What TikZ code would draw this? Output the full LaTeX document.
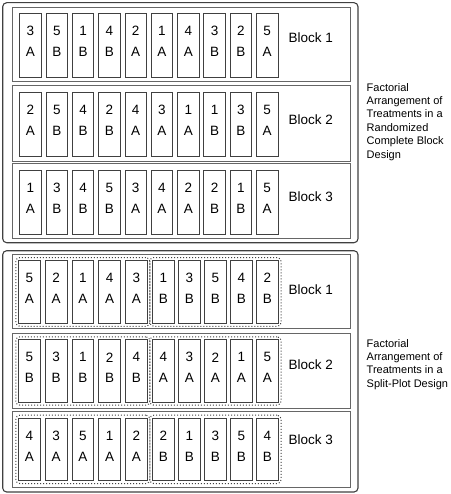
\documentclass[tikz,border=0pt]{standalone}
\usepackage{fontspec}
\setmainfont{Liberation Sans}
\usetikzlibrary{fit}
\newcommand\prow[6]{% prefix, x0, pitch, ytop, height, list
  \foreach \n/\l [count=\i] in {#6} {
    \node[plotbox, minimum height=#5pt] (#1-\i) at ({#2+(\i-1)*#3},#4) {};
    \node[ptxt] (#1-\i-n) at ([yshift=-18pt]#1-\i.north) {\n};
    \node[ptxt] (#1-\i-l) at ([yshift=-39pt]#1-\i.north) {\l};
  }}
\begin{document}
\begin{tikzpicture}[x=1pt,y=-1pt,
  frame/.style={draw=black!75, line width=1.1pt, rounded corners=4pt},
  blockbox/.style={draw=black!60, line width=0.9pt},
  plotbox/.style={draw=black!75, line width=0.85pt, minimum width=21.5pt, inner sep=0pt, anchor=north west},
  grp/.style={draw=black!75, dotted, line width=1pt, rounded corners=4pt, inner sep=2.5pt},
  ptxt/.style={font=\fontsize{13.5}{13.5}\selectfont, inner sep=0pt},
  blab/.style={font=\fontsize{13.5}{14}\selectfont, inner sep=0pt, anchor=west},
  side/.style={font=\fontsize{11}{13.4}\selectfont, inner sep=0pt, anchor=north west, align=left}]
\useasboundingbox (0,0) rectangle (450,494);
% ---------- top: RCBD ----------
\draw[frame] (2.7,2.7) rectangle (358,242.7);
\draw[blockbox] (12.3,7.3) rectangle (350,81.7);
\draw[blockbox] (12.3,85) rectangle (350,161);
\draw[blockbox] (12.3,163.3) rectangle (350,238);
\prow{t1}{19.3}{26.3}{12.7}{64}{3/A,5/B,1/B,4/B,2/A,1/A,4/A,3/B,2/B,5/A}
\prow{t2}{19.3}{26.3}{92}{64}{2/A,5/B,4/B,2/B,4/A,3/A,1/A,1/B,3/B,5/A}
\prow{t3}{19.3}{26.3}{170}{63.5}{1/A,3/B,4/B,5/B,3/A,4/A,2/A,2/B,1/B,5/A}
\node[blab] (tb1) at (288.3,38) {Block 1};
\node[blab] (tb2) at (288.3,120) {Block 2};
\node[blab] (tb3) at (288.3,197) {Block 3};
\node[side] (tside) at (366.5,83) {Factorial\\Arrangement of\\Treatments in a\\Randomized\\Complete Block\\Design};
% ---------- bottom: split-plot ----------
\draw[frame] (2.7,250.7) rectangle (358,492);
\draw[blockbox] (12.3,254.3) rectangle (350,328);
\draw[blockbox] (12.3,333.3) rectangle (350,408);
\draw[blockbox] (12.3,411.7) rectangle (350,487.7);
\prow{b1a}{18.3}{26.7}{260}{63}{5/A,2/A,1/A,4/A,3/A}
\prow{b1b}{152.3}{26}{260}{63}{1/B,3/B,5/B,4/B,2/B}
\prow{b2a}{18.3}{26.7}{339.3}{62.5}{5/B,3/B,1/B,2/B,4/B}
\prow{b2b}{152.3}{26}{339.3}{62.5}{4/A,3/A,2/A,1/A,5/A}
\prow{b3a}{18.3}{26.7}{417.7}{62.5}{4/A,3/A,5/A,1/A,2/A}
\prow{b3b}{152.3}{26}{417.7}{62.5}{2/B,1/B,3/B,5/B,4/B}
\node[grp, fit=(b1a-1)(b1a-5)] (g1a) {};
\node[grp, fit=(b1b-1)(b1b-5)] (g1b) {};
\node[grp, fit=(b2a-1)(b2a-5)] (g2a) {};
\node[grp, fit=(b2b-1)(b2b-5)] (g2b) {};
\node[grp, fit=(b3a-1)(b3a-5)] (g3a) {};
\node[grp, fit=(b3b-1)(b3b-5)] (g3b) {};
\node[blab] (bb1) at (288.3,290) {Block 1};
\node[blab] (bb2) at (288.3,365) {Block 2};
\node[blab] (bb3) at (288.3,440) {Block 3};
\node[side] (bside) at (366.5,339) {Factorial\\Arrangement of\\Treatments in a\\Split-Plot Design};
\end{tikzpicture}
\end{document}
